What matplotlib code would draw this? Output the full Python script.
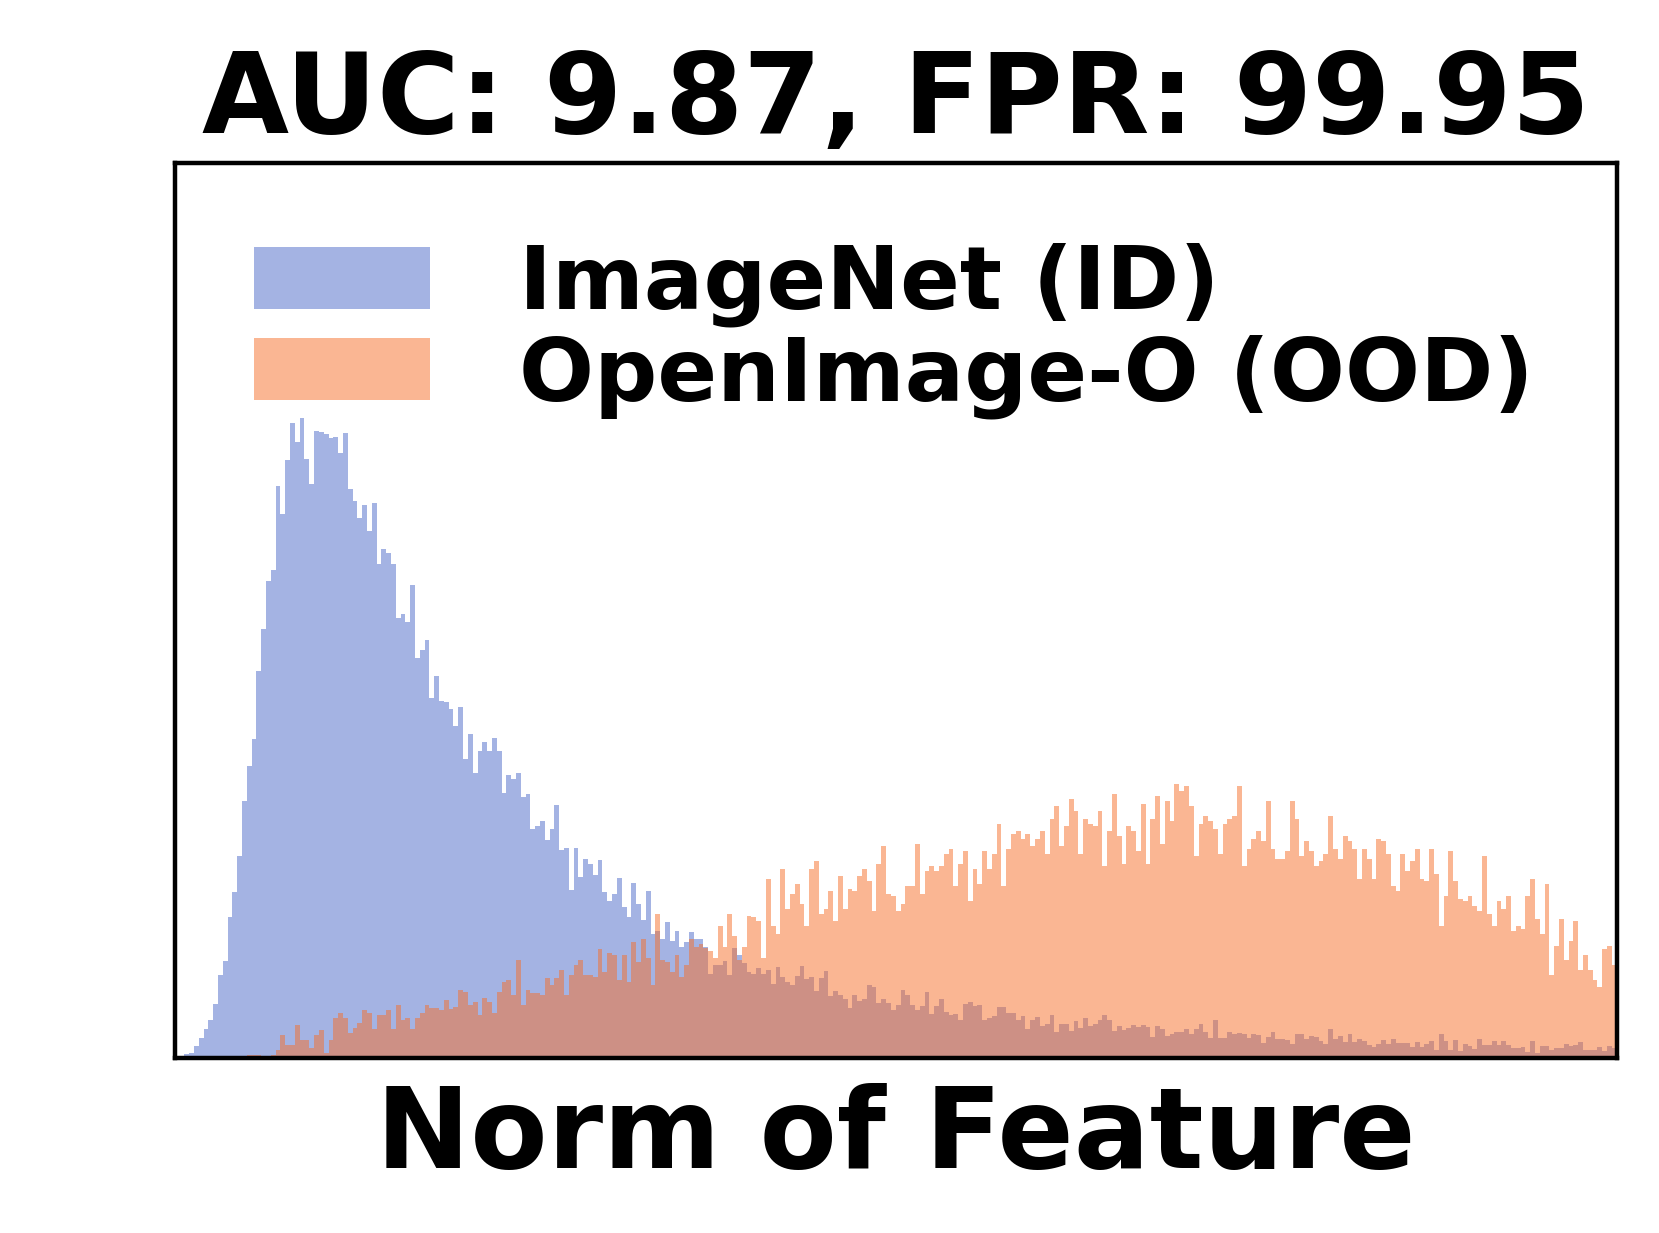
import numpy as np
import matplotlib
matplotlib.use("Agg")
import matplotlib.pyplot as plt

# ---- data (histogram counts per bin) ----
title_text = "AUC: 9.87, FPR: 99.95"
xlabel_text = "Norm of Feature"
labels = ["ImageNet (ID)", "OpenImage-O (OOD)"]

id_counts = [
    0, 0, 4, 5, 12, 20, 29, 38, 54, 83, 97, 140, 165, 201, 256, 291, 318, 386, 428, 476,
    487, 571, 543, 597, 634, 615, 639, 598, 573, 626, 625, 623, 619, 620, 604, 624, 568, 556, 539, 552,
    526, 554, 493, 508, 504, 493, 439, 443, 435, 472, 399, 407, 417, 359, 381, 356, 355, 348, 331, 350,
    298, 323, 284, 306, 315, 306, 319, 306, 264, 282, 278, 284, 260, 263, 228, 231, 236, 217, 228, 252,
    207, 209, 167, 209, 180, 198, 193, 182, 197, 165, 156, 163, 179, 150, 140, 174, 153, 137, 166, 123,
    126, 118, 135, 116, 126, 110, 115, 125, 118, 118, 110, 84, 93, 93, 97, 83, 109, 103, 95, 86,
    84, 90, 84, 88, 74, 91, 81, 76, 73, 82, 92, 79, 81, 67, 80, 87, 62, 67, 63, 59,
    50, 63, 57, 59, 73, 71, 55, 59, 55, 48, 53, 68, 63, 53, 48, 52, 66, 44, 52, 59,
    46, 43, 44, 38, 54, 56, 52, 53, 38, 40, 42, 51, 51, 45, 45, 38, 42, 29, 38, 41,
    32, 34, 43, 26, 34, 34, 27, 37, 30, 40, 32, 34, 38, 43, 38, 27, 32, 28, 30, 33,
    31, 33, 31, 21, 32, 29, 22, 24, 26, 26, 29, 24, 29, 34, 26, 20, 38, 20, 20, 26,
    24, 25, 24, 20, 24, 23, 15, 21, 26, 19, 19, 18, 14, 24, 24, 19, 22, 21, 17, 14,
    29, 19, 22, 16, 24, 16, 19, 17, 13, 11, 14, 18, 14, 19, 15, 15, 15, 11, 16, 11,
    14, 17, 8, 24, 17, 8, 18, 7, 14, 12, 9, 19, 13, 13, 17, 13, 17, 13, 10, 10,
    11, 6, 17, 5, 12, 12, 8, 10, 10, 14, 12, 13, 16, 8, 8, 8, 11, 7, 12, 10,
]

ood_counts = [
    0, 0, 0, 0, 0, 0, 0, 0, 0, 0, 0, 0, 0, 0, 0, 3, 3, 3, 0, 0,
    3, 8, 23, 13, 13, 33, 18, 18, 10, 23, 28, 5, 18, 40, 45, 40, 25, 30, 35, 48,
    45, 29, 43, 43, 48, 29, 53, 38, 40, 29, 40, 45, 53, 50, 50, 48, 58, 49, 51, 68,
    66, 53, 56, 43, 60, 56, 45, 66, 76, 78, 63, 98, 53, 68, 65, 65, 63, 80, 73, 80,
    88, 63, 83, 93, 98, 83, 83, 81, 108, 86, 105, 103, 78, 103, 76, 115, 96, 118, 100, 73,
    143, 98, 96, 86, 103, 81, 93, 118, 110, 113, 109, 106, 100, 131, 110, 143, 121, 98, 110, 141,
    140, 136, 100, 178, 131, 123, 188, 148, 163, 173, 153, 131, 188, 196, 143, 148, 166, 136, 181, 148,
    168, 166, 181, 188, 176, 146, 193, 211, 163, 161, 146, 153, 171, 171, 213, 163, 186, 191, 186, 191,
    203, 208, 171, 193, 206, 156, 188, 173, 206, 188, 203, 233, 171, 208, 223, 226, 218, 223, 211, 218,
    226, 203, 238, 251, 211, 231, 258, 246, 203, 238, 233, 231, 246, 191, 226, 263, 221, 193, 231, 226,
    206, 253, 193, 238, 261, 213, 256, 236, 273, 266, 271, 251, 201, 233, 241, 236, 228, 203, 233, 238,
    241, 271, 191, 208, 218, 226, 216, 256, 208, 198, 198, 206, 256, 238, 201, 216, 206, 191, 196, 203,
    241, 208, 198, 221, 216, 208, 178, 208, 198, 178, 218, 216, 203, 171, 166, 203, 186, 196, 208, 178,
    176, 208, 183, 131, 161, 206, 176, 158, 156, 161, 151, 146, 201, 143, 131, 156, 148, 161, 126, 131,
    128, 161, 178, 138, 123, 173, 83, 111, 138, 98, 116, 136, 88, 103, 88, 78, 71, 108, 111, 93,
]

# ---- layout / style ----
n_bins = len(id_counts)
edges = np.linspace(0.0, 30.0, n_bins + 1)
centers = 0.5 * (edges[:-1] + edges[1:])

id_color = (75 / 255, 105 / 255, 201 / 255)
ood_color = (247 / 255, 111 / 255, 41 / 255)

plt.rcParams["font.family"] = ["DejaVu Sans"]
plt.rcParams["font.weight"] = "bold"

fig = plt.figure(figsize=(16.59, 12.33), dpi=100)
ax = fig.add_axes([0.1053, 0.1422, 0.8692, 0.7254])

ax.hist(centers, bins=edges, weights=id_counts, color=id_color, alpha=0.5, label=labels[0])
ax.hist(centers, bins=edges, weights=ood_counts, color=ood_color, alpha=0.5, label=labels[1])

ax.set_xlim(edges[0], edges[-1])
ax.set_ylim(0, 893)
ax.set_xticks([])
ax.set_yticks([])
for sp in ax.spines.values():
    sp.set_linewidth(3.2)
    sp.set_color("black")

ax.set_title(title_text, fontsize=81, fontweight="bold", pad=22)
ax.set_xlabel(xlabel_text, fontsize=81, fontweight="bold", labelpad=18)

leg = ax.legend(loc="upper left", frameon=False, prop={"size": 63.5, "weight": "bold"},
                labelspacing=0.08, handletextpad=1.0)

fig.savefig("out.png", dpi=100)
